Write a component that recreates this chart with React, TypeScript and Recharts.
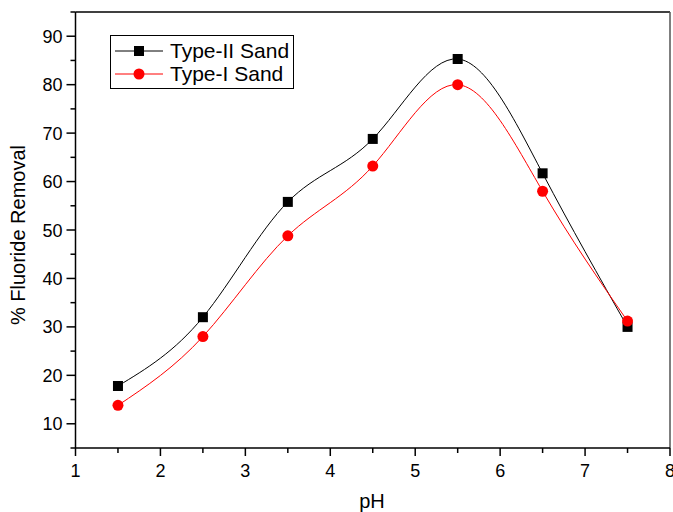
import React from "react";
import { LineChart, Line, XAxis, YAxis, Legend, ReferenceLine } from "recharts";

const phValues = [1.5, 2.5, 3.5, 4.5, 5.5, 6.5, 7.5];
const typeIISand = [17.8, 32.0, 55.8, 68.8, 85.3, 61.7, 30.0];
const typeISand = [13.8, 28.0, 48.8, 63.2, 80.0, 58.0, 31.2];

const xTicks = [1, 1.5, 2, 2.5, 3, 3.5, 4, 4.5, 5, 5.5, 6, 6.5, 7, 7.5, 8];
const yTicks = [5, 10, 15, 20, 25, 30, 35, 40, 45, 50, 55, 60, 65, 70, 75, 80, 85, 90, 95];

const data = phValues.map((ph, i) => ({ ph, t2: typeIISand[i], t1: typeISand[i] }));

const FONT = "'Liberation Sans', Arial, sans-serif";

const XTick = (props: any) => {
  const { x, y, payload } = props;
  const major = Number.isInteger(payload.value);
  return (
    <g>
      <line x1={x} y1={y} x2={x} y2={y + (major ? 8 : 5)} stroke="#000" strokeWidth={1.5} />
      {major && (
        <text x={x} y={y + 29} textAnchor="middle" fontSize={18} fontFamily={FONT} fill="#000">
          {payload.value}
        </text>
      )}
    </g>
  );
};

const YTick = (props: any) => {
  const { x, y, payload } = props;
  const major = payload.value % 10 === 0;
  return (
    <g>
      <line x1={x - (major ? 9 : 5)} y1={y} x2={x} y2={y} stroke="#000" strokeWidth={1.5} />
      {major && (
        <text x={x - 13} y={y + 6.5} textAnchor="end" fontSize={18} fontFamily={FONT} fill="#000">
          {payload.value}
        </text>
      )}
    </g>
  );
};

const SquareDot = (props: any) => {
  const { cx, cy, index } = props;
  return <rect key={`s${index}`} x={cx - 5} y={cy - 5} width={10} height={10} fill="#000" />;
};

const CircleDot = (props: any) => {
  const { cx, cy, index } = props;
  return <circle key={`c${index}`} cx={cx} cy={cy} r={5.5} fill="#ff0000" />;
};

const LegendBox = () => (
  <svg width={184} height={54} style={{ display: "block" }}>
    <rect x={0.5} y={0.5} width={183} height={53} fill="#fff" stroke="#000" strokeWidth={1} />
    <line x1={5} y1={16} x2={53} y2={16} stroke="#000" strokeWidth={1} />
    <rect x={24} y={11} width={10} height={10} fill="#000" />
    <text x={60} y={23} fontSize={21} fontFamily={FONT} fill="#000">Type-II Sand</text>
    <line x1={5} y1={39} x2={53} y2={39} stroke="#ff0000" strokeWidth={1} />
    <circle cx={29} cy={39} r={5.5} fill="#ff0000" />
    <text x={60} y={46} fontSize={21} fontFamily={FONT} fill="#000">Type-I Sand</text>
  </svg>
);

export default function App() {
  return (
    <div style={{ position: "absolute", left: 0, top: 0, background: "#fff" }}>
      <LineChart width={673} height={512} data={data} margin={{ top: 12, right: 3, bottom: 0, left: 0 }}>
        <XAxis
          dataKey="ph"
          type="number"
          domain={[1, 8]}
          ticks={xTicks}
          interval={0}
          height={64}
          tickSize={0}
          tickMargin={0}
          tickLine={false}
          tick={<XTick />}
          axisLine={{ stroke: "#000", strokeWidth: 1.5 }}
          label={{
            content: () => (
              <text x={372} y={508} textAnchor="middle" fontSize={20} fontFamily={FONT} fill="#000">
                pH
              </text>
            ),
          }}
        />
        <YAxis
          type="number"
          domain={[5, 95]}
          ticks={yTicks}
          interval={0}
          width={75.5}
          tickSize={0}
          tickMargin={0}
          tickLine={false}
          tick={<YTick />}
          axisLine={{ stroke: "#000", strokeWidth: 1.5 }}
          label={{
            content: () => (
              <text
                x={25}
                y={235}
                transform="rotate(-90 25 235)"
                textAnchor="middle"
                fontSize={20}
                fontFamily={FONT}
                fill="#000"
              >
                % Fluoride Removal
              </text>
            ),
          }}
        />
        <ReferenceLine y={95} stroke="#000" strokeWidth={1.5} />
        <ReferenceLine x={8} stroke="#555" strokeWidth={1.5} />
        <Legend
          layout="vertical"
          align="center"
          verticalAlign="middle"
          content={() => <LegendBox />}
          wrapperStyle={{ position: "absolute", left: 110, top: 35, width: 184, height: 54 }}
        />
        <Line
          type="natural"
          dataKey="t2"
          name="Type-II Sand"
          stroke="#000"
          strokeWidth={1}
          dot={<SquareDot />}
          isAnimationActive={false}
        />
        <Line
          type="natural"
          dataKey="t1"
          name="Type-I Sand"
          stroke="#ff0000"
          strokeWidth={1}
          dot={<CircleDot />}
          isAnimationActive={false}
        />
      </LineChart>
    </div>
  );
}
